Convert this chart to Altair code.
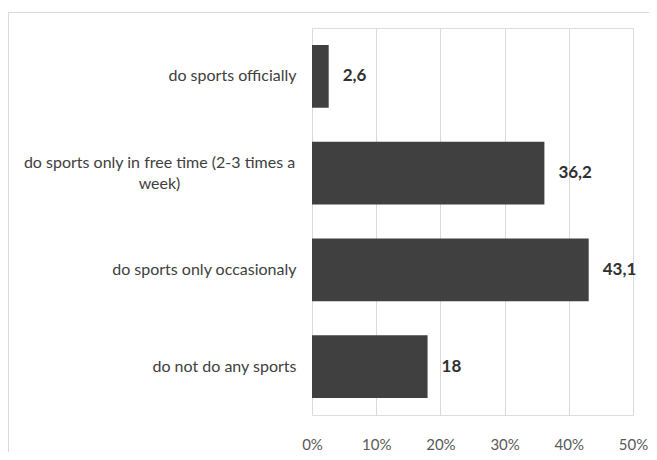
import altair as alt
import pandas as pd

categories = [
    "do sports officially",
    "do sports only in free time (2-3 times a week)",
    "do sports only occasionaly",
    "do not do any sports",
]
values = [2.6, 36.2, 43.1, 18.0]
labels = [f"{v:g}".replace(".", ",") for v in values]
ticks = [0, 10, 20, 30, 40, 50]

df = pd.DataFrame({"cat": categories, "val": values, "lab": labels})
LONG = categories[1]

FONT = "Lato"
is_long = f"datum.value == '{LONG}'"

y_enc = alt.Y(
    "cat:N",
    sort=categories,
    title=None,
    scale=alt.Scale(paddingInner=0.35, paddingOuter=0.175),
    axis=alt.Axis(
        domain=False,
        ticks=False,
        grid=False,
        labelFont=FONT,
        labelFontSize=16,
        labelColor="#404040",
        labelLimit=400,
        labelLineHeight=21,
        labelExpr=f"{is_long} ? ['do sports only in free time (2-3 times a', 'week)'] : datum.label",
        labelAlign={"condition": {"test": is_long, "value": "center"}, "value": "right"},
        labelPadding={"condition": {"test": is_long, "value": 153}, "value": 16},
        labelOffset={"condition": {"test": is_long, "value": -10}, "value": 0},
    ),
)

x_enc = alt.X(
    "val:Q",
    title=None,
    scale=alt.Scale(domain=[0, 50], nice=False),
    axis=alt.Axis(
        values=ticks,
        domain=False,
        ticks=False,
        grid=True,
        gridColor="#d9d9d9",
        gridWidth=1,
        labelFont=FONT,
        labelFontSize=15,
        labelColor="#595959",
        labelPadding=22,
        labelFlush=False,
        labelExpr="datum.value + '%'",
    ),
)

base = alt.Chart(df)
bars = base.mark_bar(color="#404040").encode(x=x_enc, y=y_enc)
text = base.mark_text(
    align="left", baseline="middle", dx=14, font=FONT, fontSize=17, fontWeight="bold", color="#303030"
).encode(x="val:Q", y=alt.Y("cat:N", sort=categories), text="lab:N")

one = pd.DataFrame({"a": [0]})
top_border = alt.Chart(one).mark_rule(color="#d9d9d9", strokeWidth=1).encode(
    y=alt.value(-15.5), x=alt.value(-304), x2=alt.value(400)
)
left_border = alt.Chart(one).mark_rule(color="#d9d9d9", strokeWidth=1).encode(
    x=alt.value(-303.5), y=alt.value(-16), y2=alt.value(500)
)

chart = (
    alt.layer(bars, text, top_border, left_border)
    .properties(
        width=321,
        height=387,
        autosize=alt.AutoSizeParams(type="none"),
        padding={"left": 304, "top": 20, "right": 16, "bottom": 37},
    )
    .configure_view(stroke=None)
    .configure(background="white")
)

chart.save("out.html", embed_options={"renderer": "svg", "actions": False})
